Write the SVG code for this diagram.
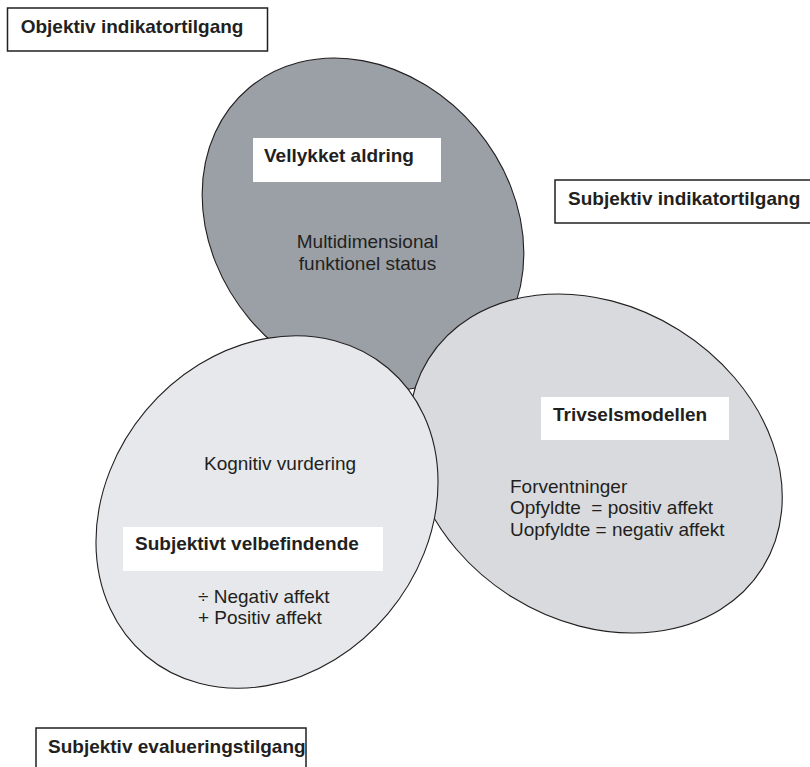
<svg xmlns="http://www.w3.org/2000/svg" width="810" height="767" viewBox="0 0 810 767">
<style>
.ell{stroke:#231f20;stroke-width:1.1}
.box{fill:#fff;stroke:#231f20;stroke-width:1.5}
.lbl{fill:#fff;stroke:none}
.b{font-family:"Liberation Sans",Arial,sans-serif;font-weight:bold;font-size:19px;fill:#231f20}
.t{font-family:"Liberation Sans",Arial,sans-serif;font-size:19px;fill:#231f20}
</style>
<rect width="810" height="767" fill="#fff"/>
<g id="vellykket-aldring">
<ellipse class="ell" cx="363" cy="224" rx="177.5" ry="148" transform="rotate(50 363 224)" fill="#9aa0a6"/>
</g>
<g id="trivselsmodellen">
<ellipse class="ell" cx="595.5" cy="463.5" rx="197" ry="157.5" transform="rotate(32 595.5 463.5)" fill="#d8dadd"/>
</g>
<g id="subjektivt-velbefindende">
<ellipse class="ell" cx="267" cy="512" rx="188" ry="158" transform="rotate(-50 267 512)" fill="#e6e8eb"/>
</g>
<g id="vellykket-aldring-text">
<rect class="lbl" x="253" y="138" width="188" height="44"/>
<text class="b" x="264" y="162">Vellykket aldring</text>
<text class="t" x="367.5" y="248" text-anchor="middle">Multidimensional</text>
<text class="t" x="367.5" y="270" text-anchor="middle">funktionel status</text>
</g>
<g id="trivselsmodellen-text">
<rect class="lbl" x="541" y="397" width="188" height="43"/>
<text class="b" x="553" y="421">Trivselsmodellen</text>
<text class="t" x="510" y="493">Forventninger</text>
<text class="t" x="510" y="514" xml:space="preserve">Opfyldte  = positiv affekt</text>
<text class="t" x="510" y="536">Uopfyldte = negativ affekt</text>
</g>
<g id="subjektivt-velbefindende-text">
<text class="t" x="204" y="470">Kognitiv vurdering</text>
<rect class="lbl" x="123" y="527" width="260" height="44"/>
<text class="b" x="135" y="550">Subjektivt velbefindende</text>
<text class="t" x="198" y="603">÷ Negativ affekt</text>
<text class="t" x="198" y="624">+ Positiv affekt</text>
</g>
<g id="objektiv-indikatortilgang">
<rect class="box" x="7.5" y="8" width="260" height="43"/>
<text class="b" x="20.7" y="33">Objektiv indikatortilgang</text>
</g>
<g id="subjektiv-indikatortilgang">
<rect class="box" x="555" y="180" width="270" height="43"/>
<text class="b" x="568" y="205">Subjektiv indikatortilgang</text>
</g>
<g id="subjektiv-evalueringstilgang">
<rect class="box" x="36" y="728" width="270" height="50"/>
<text class="b" x="48" y="753">Subjektiv evalueringstilgang</text>
</g>
<g id="connectors"/>
</svg>
